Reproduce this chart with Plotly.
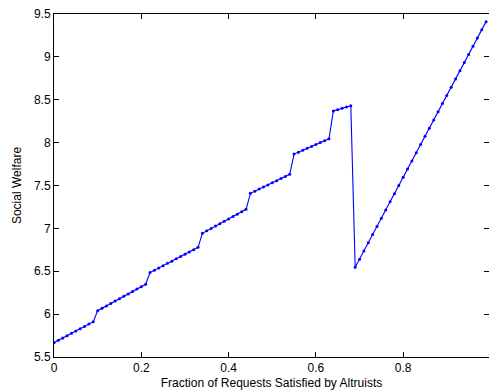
import plotly.graph_objects as go

x_vals = [0.00, 0.01, 0.02, 0.03, 0.04, 0.05, 0.06, 0.07, 0.08, 0.09,
          0.10, 0.11, 0.12, 0.13, 0.14, 0.15, 0.16, 0.17, 0.18, 0.19,
          0.20, 0.21, 0.22, 0.23, 0.24, 0.25, 0.26, 0.27, 0.28, 0.29,
          0.30, 0.31, 0.32, 0.33, 0.34, 0.35, 0.36, 0.37, 0.38, 0.39,
          0.40, 0.41, 0.42, 0.43, 0.44, 0.45, 0.46, 0.47, 0.48, 0.49,
          0.50, 0.51, 0.52, 0.53, 0.54, 0.55, 0.56, 0.57, 0.58, 0.59,
          0.60, 0.61, 0.62, 0.63, 0.64, 0.65, 0.66, 0.67, 0.68, 0.69,
          0.70, 0.71, 0.72, 0.73, 0.74, 0.75, 0.76, 0.77, 0.78, 0.79,
          0.80, 0.81, 0.82, 0.83, 0.84, 0.85, 0.86, 0.87, 0.88, 0.89,
          0.90, 0.91, 0.92, 0.93, 0.94, 0.95, 0.96, 0.97, 0.98, 0.99]

welfare = [5.667, 5.694, 5.721, 5.749, 5.776, 5.803, 5.830, 5.857, 5.885, 5.912,
           6.040, 6.068, 6.096, 6.124, 6.152, 6.180, 6.208, 6.236, 6.264, 6.292,
           6.320, 6.348,
           6.485, 6.512, 6.538, 6.565, 6.592, 6.618, 6.645, 6.672, 6.699, 6.725,
           6.752, 6.779,
           6.943, 6.971, 6.999, 7.027, 7.055, 7.083, 7.110, 7.138, 7.166, 7.194,
           7.222,
           7.409, 7.434, 7.458, 7.483, 7.507, 7.532, 7.556, 7.581, 7.605, 7.630,
           7.867, 7.889, 7.912, 7.934, 7.956, 7.978, 8.001, 8.023, 8.045,
           8.369, 8.384, 8.400, 8.415, 8.430,
           6.546, 6.641, 6.737, 6.832, 6.928, 7.023, 7.119, 7.214, 7.310, 7.405,
           7.501, 7.596, 7.692, 7.787, 7.883, 7.978, 8.074, 8.169, 8.265, 8.360,
           8.456, 8.551, 8.647, 8.742, 8.838, 8.933, 9.029, 9.124, 9.220, 9.315,
           9.411]

x_ticks = [0, 0.2, 0.4, 0.6, 0.8, 1.0]
x_tick_labels = ["0", "0.2", "0.4", "0.6", "0.8", "1"]
y_ticks = [5.5, 6, 6.5, 7, 7.5, 8, 8.5, 9, 9.5]
y_tick_labels = ["5.5", "6", "6.5", "7", "7.5", "8", "8.5", "9", "9.5"]

fig = go.Figure()
fig.add_trace(go.Scatter(
    x=x_vals, y=welfare, mode="lines+markers",
    line=dict(color="#0000ff", width=1.1),
    marker=dict(color="#0000ff", size=3),
    showlegend=False,
))

axis_common = dict(
    showgrid=False, zeroline=False, showline=True, linecolor="black",
    linewidth=1, mirror="allticks", ticks="inside", ticklen=5,
    tickcolor="black", tickwidth=1,
    tickfont=dict(family="Liberation Sans, Arial, sans-serif", size=12, color="black"),
)

fig.update_layout(
    width=489, height=392,
    margin=dict(l=54, r=0, t=14, b=35),
    plot_bgcolor="white", paper_bgcolor="white",
    font=dict(family="Liberation Sans, Arial, sans-serif", size=12, color="black"),
    xaxis=dict(range=[0, 0.9966], tickvals=x_ticks, ticktext=x_tick_labels,
               title=dict(text="Fraction of Requests Satisfied by Altruists",
                          font=dict(size=12), standoff=4),
               **axis_common),
    yaxis=dict(range=[5.5, 9.5], tickvals=y_ticks, ticktext=y_tick_labels,
               title=dict(text="Social Welfare", font=dict(size=12), standoff=9),
               **axis_common),
)

fig.write_html("out.html")
